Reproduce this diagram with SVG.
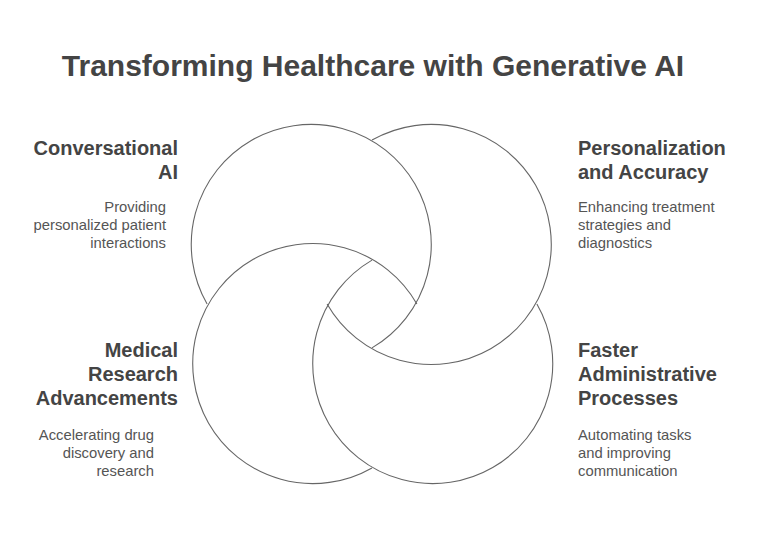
<svg xmlns="http://www.w3.org/2000/svg" width="768" height="534" viewBox="0 0 768 534">
<style>
.c{fill:none;stroke:#666;stroke-width:1.1}
.t{font-family:"Liberation Sans",Arial,sans-serif;font-weight:bold;font-size:30px;fill:#444}
.h{font-family:"Liberation Sans",Arial,sans-serif;font-weight:bold;font-size:20px;fill:#444}
.d{font-family:"Liberation Sans",Arial,sans-serif;font-size:14.8px;fill:#555}
.r{text-anchor:end}
</style>
<rect width="768" height="534" fill="#fff"/>
<text class="t" x="373" y="76" text-anchor="middle">Transforming Healthcare with Generative AI</text>
<g id="connectors">
<path id="circle-tl" class="c" d="M207.1,304 A120,120 0 1 1 372,347.9"/>
<path id="circle-tr" class="c" d="M372,140.1 A120,120 0 1 1 327.1,304"/>
<path id="circle-br" class="c" d="M536.9,304 A120,120 0 1 1 372,260.1"/>
<path id="circle-bl" class="c" d="M372,467.9 A120,120 0 1 1 416.9,304"/>
</g>
<g id="conversational-ai">
<text class="h r" x="178" y="155">Conversational</text>
<text class="h r" x="178" y="179">AI</text>
<text class="d r" x="166" y="212">Providing</text>
<text class="d r" x="166" y="230">personalized patient</text>
<text class="d r" x="166" y="248">interactions</text>
</g>
<g id="personalization">
<text class="h" x="578" y="155">Personalization</text>
<text class="h" x="578" y="179">and Accuracy</text>
<text class="d" x="578" y="212">Enhancing treatment</text>
<text class="d" x="578" y="230">strategies and</text>
<text class="d" x="578" y="248">diagnostics</text>
</g>
<g id="medical-research">
<text class="h r" x="178" y="357">Medical</text>
<text class="h r" x="178" y="381">Research</text>
<text class="h r" x="178" y="405">Advancements</text>
<text class="d r" x="154" y="440">Accelerating drug</text>
<text class="d r" x="154" y="458">discovery and</text>
<text class="d r" x="154" y="476">research</text>
</g>
<g id="administrative">
<text class="h" x="578" y="357">Faster</text>
<text class="h" x="578" y="381">Administrative</text>
<text class="h" x="578" y="405">Processes</text>
<text class="d" x="578" y="440">Automating tasks</text>
<text class="d" x="578" y="458">and improving</text>
<text class="d" x="578" y="476">communication</text>
</g>
</svg>
